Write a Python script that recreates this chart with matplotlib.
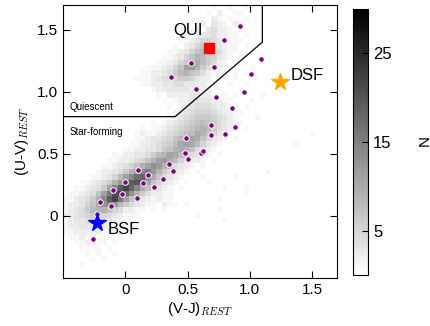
import numpy as np
import matplotlib
matplotlib.use('Agg')
import matplotlib.pyplot as plt

plt.rcParams['font.family'] = ['Liberation Sans', 'DejaVu Sans']
plt.rcParams['mathtext.fontset'] = 'cm'

# 2D histogram counts (50 x 50 bins over -0.5..1.7), top row first.
# '.' = 0, other chars are base-36 counts
hist_rows = [
    ".......... .......... .......1.. 1..1...... ..........",  # 49
    ".......... .......... ......1.2. .11....... ..........",
    ".......... .......... .....1.21. 1..1...... ..........",
    ".......... .......... ....12.321 .21....... ..........",
    ".......... .......... ...12.3422 1.1....... ..........",  # 45
    ".......... .......... ..1.233422 11.1...... ..........",
    ".......... .......... .112355432 111....... ..........",
    ".......... .......... 1.23566532 11.1...... ..........",
    ".......... .........1 1235787542 11........ ..........",
    ".......... ........11 2357986532 1.1....... ..........",  # 40
    ".......... .......112 3569a86421 .1........ ..........",
    ".......... .....11123 57bc964321 ....1..... ..........",
    ".......... ....112234 689764211. .1........ ..........",
    ".......... ...1112344 5665322.1. .1...1.... ..........",
    ".......... ....112233 44332211.. 1..1...... ..........",  # 35
    ".......... ......1223 333222211. ..1....... ..........",
    ".......... .......1.2 2223322111 .1....1... ..........",
    ".......... ........1. 1223333221 1...1..... ..........",
    ".......... .........1 .123444322 11.1...... ..........",
    ".......... .......... 1234555432 211....... ..........",  # 30
    ".......... .........1 2345666543 21...1.... ..........",
    ".......... ......1.12 3456787643 211....... ..........",
    ".......... ....1.1123 4567898643 21.1...... ..........",
    ".......... ...1211234 5678a97532 1......... .....1....",
    ".......... ...1123345 789ba75321 .1........ ..........",  # 25
    ".......... ..11223456 8aba85321. .......... ..1.......",
    ".......... .112233467 9a974321.. .......... ..........",
    ".........1 122334689b a864321.1. .......... ..........",
    "........11 2234579bca 853221.1.. .......... ..........",
    ".......112 34579bdc97 4321.1.... .......... ..........",  # 20
    "......1223 469cefc964 321.1..... .......1.. ..........",
    ".....11235 8behiea743 21...1.... .1........ ..........",
    "...1123469 cgjkfb7532 1.1...1... .......... ..........",
    "..112346ae jmiea74321 .1.......1 ...1...... ..........",
    ".112347bgl nhd9642211 .......... ...1...... ..........",  # 15
    "1123469ejm gb75321211 ........1. .......... ..........",
    "122357adec 8643211.21 1.1....... .......... ..........",
    "1234689975 42211.1.1. ........1. .......... ..........",
    "2234566543 2111...... ....1..... .......... ..........",
    "1233444332 111....... .........1 .......... ..........",  # 10
    "1223333221 1.1....... .......... .......... ..........",
    "1122222111 .1........ .......... .......... ..........",
    ".11212111. 1......... .......... .......... ..........",
    "..112211.1 .......... .......... .......... ..........",
    "...1111.1. .......... .......... .......... ..........",  # 5
    "....1.1..1 .......... .......... .......... ..........",
    ".....1.1.. .......... .......... .......... ..........",
    "...1...... .......... .......... .......... ..........",
    ".......... .......... .......... .......... ..........",
    ".......... .......... .......... .......... ..........",  # 0
]

# sample galaxies (V-J, U-V)
gal_vj = [0.92, 0.79, 0.53, 0.71, 0.37, 0.57, 1.09, 1.01, 0.95, 0.73, 0.86,
          0.685, 0.88, 0.69, 0.80, 0.49, 0.48, 0.61, 0.62, 0.505, 0.35, 0.10,
          0.18, 0.38, 0.0, 0.145, 0.30, 0.23, -0.10, -0.03, 0.09, -0.20,
          -0.115, -0.23, -0.26]
gal_uv = [1.53, 1.42, 1.23, 1.20, 1.12, 1.02, 1.265, 1.14, 1.0, 0.96, 0.87,
          0.735, 0.72, 0.65, 0.66, 0.63, 0.505, 0.51, 0.525, 0.46, 0.42, 0.37,
          0.33, 0.36, 0.27, 0.265, 0.30, 0.23, 0.21, 0.18, 0.145, 0.11,
          0.08, 0.02, -0.185]

# stacked templates
qui_vj, qui_uv = 0.67, 1.35
dsf_vj, dsf_uv = 1.24, 1.08
bsf_vj, bsf_uv = -0.23, -0.06

# quiescent selection boundary
box_vj = [-0.5, 0.4, 1.1, 1.1]
box_uv = [0.8, 0.8, 1.4, 1.7]

counts = np.array([[0 if c == '.' else int(c, 36) for c in r.replace(' ', '')]
                   for r in hist_rows[::-1]], dtype=float)
counts = np.ma.masked_equal(counts, 0)
edges = np.linspace(-0.5, 1.7, 51)

fig = plt.figure(figsize=(4.3, 3.26), dpi=100)
ax = fig.add_axes([0.1465, 0.147, 0.6375, 0.838])
cax = fig.add_axes([0.821, 0.156, 0.035, 0.816])

mesh = ax.pcolormesh(edges, edges, counts, cmap='gray_r', vmin=0, vmax=30,
                     edgecolors='none', antialiased=False, snap=True)
ax.plot(box_vj, box_uv, color='k', lw=0.9)
ax.scatter(gal_vj, gal_uv, s=16, c='purple', edgecolors='white', linewidths=0.7, zorder=3)
ax.plot(qui_vj, qui_uv, 's', color='red', ms=7.5, mec='red', zorder=4)
ax.plot(dsf_vj, dsf_uv, '*', color='orange', ms=13, mec='orange', zorder=4)
ax.plot(bsf_vj, bsf_uv, '*', color='blue', ms=13, mec='blue', zorder=4)

ax.text(0.5, 1.495, 'QUI', fontsize=12, ha='center', va='center')
ax.text(1.33, 1.13, 'DSF', fontsize=12, ha='left', va='center')
ax.text(-0.14, -0.11, 'BSF', fontsize=12, ha='left', va='center')
ax.text(-0.445, 0.88, 'Quiescent', fontsize=7, ha='left', va='center')
ax.text(-0.445, 0.68, 'Star-forming', fontsize=7, ha='left', va='center')

ax.set_xlim(-0.5, 1.7)
ax.set_ylim(-0.5, 1.7)
ax.set_xticks([0, 0.5, 1.0, 1.5])
ax.set_xticklabels(['0', '0.5', '1.0', '1.5'])
ax.set_yticks([0, 0.5, 1.0, 1.5])
ax.set_yticklabels(['0', '0.5', '1.0', '1.5'])
ax.tick_params(direction='in', top=True, right=True, length=5, width=0.8, labelsize=11)
ax.set_xlabel('(V-J)$_{REST}$', fontsize=11, labelpad=2)
ax.set_ylabel('(U-V)$_{REST}$', fontsize=11, labelpad=4)

cb = fig.colorbar(mesh, cax=cax, ticks=[5, 15, 25])
cb.ax.tick_params(direction='in', length=4, width=0.8, labelsize=12)
cb.outline.set_linewidth(0.8)
cb.set_label('N', rotation=270, fontsize=11, labelpad=26)

fig.savefig('out.png', dpi=100)
